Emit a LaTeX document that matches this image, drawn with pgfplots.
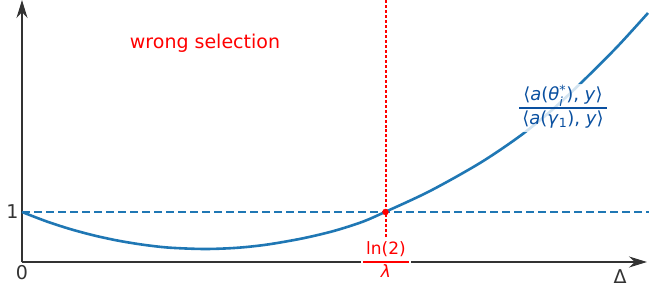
\documentclass[border=0pt]{standalone}
\usepackage{pgfplots}
\pgfplotsset{compat=1.18}
\usepackage{amsmath}
\usepackage{fontspec}
\setmainfont{DejaVu Sans}
\usetikzlibrary{arrows.meta}
\definecolor{cblue}{HTML}{1F77B4}
\definecolor{lblue}{RGB}{10,80,160}
\definecolor{axgray}{RGB}{51,51,51}
\definecolor{pred}{RGB}{255,0,0}
\newcommand{\fr}[2]{\setlength{\arrayrulewidth}{2bp}\renewcommand{\arraystretch}{1.05}\begin{tabular}{@{\,}c@{\,}}#1\\\hline #2\end{tabular}}
\begin{document}
\begin{tikzpicture}
\useasboundingbox (0,0) rectangle (649bp,292bp);
\begin{axis}[at={(22bp,30bp)}, anchor=south west, scale only axis,
  width=625bp, height=262bp, xmin=0, xmax=625, ymin=0, ymax=262,
  clip=false, axis lines=left,
  axis line style={axgray, line width=1.8bp, -{Stealth[length=18bp,width=11bp]}},
  xtick={0}, xticklabels={0}, ytick={50}, yticklabels={1},
  major tick length=0,
  tick label style={font=\fontsize{19bp}{23bp}\selectfont, text=axgray},
  /pgf/number format/assume math mode=true]
\addplot[draw=cblue, line width=2bp, dash pattern=on 8bp off 4bp] coordinates {(0,50) (627,50)};
\addplot[color=red, line width=2bp, densely dashed] coordinates {(363.5,0) (363.5,262)};
\addplot[draw=cblue, line width=2.6bp, smooth] coordinates {
(0,50) (24,40.8) (48,33) (73,26.3) (98,21) (123,17) (148,14.3) (183,13) (215,14.2) (245,17.4)
(280,23.5) (311,30.8) (340,40) (363,50) (408,71) (458,99) (498,126) (530,152) (561,181)
(595,215) (626,249)};
\addplot[pred, only marks, mark=*, mark size=3bp, mark options={fill=pred, draw=pred}] coordinates {(363.5,50)};
\node[text=pred, font=\fontsize{19bp}{23bp}\selectfont] at (axis cs:183,219) {wrong selection};
\node[text=lblue, fill=white, fill opacity=0.8, text opacity=1, inner sep=1bp,
  font=\fontsize{18bp}{21bp}\selectfont] at (axis cs:541,154)
  {\color{lblue}\fr{⟨\textit{a}(\textit{θ}$_{\text{\textit{i}}}^{\text{*}}$), \textit{y}⟩}{⟨\textit{a}(\textit{γ}$_{\text{1}}$), \textit{y}⟩}};
\node[text=pred, fill=white, inner sep=2bp, font=\fontsize{17bp}{20bp}\selectfont] at (axis cs:364,0)
  {\color{pred}\fr{ln(2)}{\textit{λ}}};
\node[text=axgray, font=\fontsize{19bp}{23bp}\selectfont] at (axis cs:598,-15) {Δ};
\end{axis}
\end{tikzpicture}
\end{document}
